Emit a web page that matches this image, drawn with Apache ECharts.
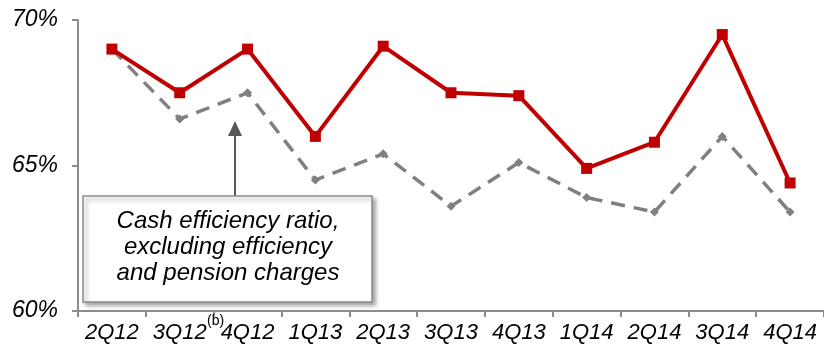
<!DOCTYPE html>
<html>
<head>
<meta charset="utf-8">
<script src="https://cdn.jsdelivr.net/npm/echarts@6/dist/echarts.min.js"></script>
<style>
html,body{margin:0;padding:0;background:#fff;}
#chart{width:824px;height:350px;}
</style>
</head>
<body>
<div id="chart"></div>
<script>
// quarters
var quarters=['2Q12','3Q12','4Q12','1Q13','2Q13','3Q13','4Q13','1Q14','2Q14','3Q14','4Q14'];
// reported efficiency ratio (red)
var ratioReported=[69.0,67.5,69.0,66.0,69.1,67.5,67.4,64.9,65.8,69.5,64.4];
// cash efficiency ratio excl. efficiency and pension charges (grey dashed)
var ratioCash=[69.0,66.6,67.5,64.5,65.4,63.6,65.1,63.9,63.4,66.0,63.4];
var yTicks=[60,65,70];

var font='Liberation Sans, Arial, sans-serif';

var option={
	animation:false,
	grid:{left:78,right:-2,top:20,bottom:39},
	xAxis:{
		type:'category',
		data:quarters,
		boundaryGap:true,
		axisLine:{lineStyle:{color:'#8c8c8c',width:2}},
		axisTick:{show:true,length:6,lineStyle:{color:'#8c8c8c',width:2}},
		axisLabel:{color:'#000',fontStyle:'italic',fontFamily:font,fontSize:22,margin:11,interval:0,hideOverlap:false}
	},
	yAxis:{
		type:'value',
		min:yTicks[0],
		max:yTicks[yTicks.length-1],
		interval:5,
		splitLine:{show:false},
		axisLine:{show:true,lineStyle:{color:'#8c8c8c',width:2}},
		axisTick:{show:true,length:6,lineStyle:{color:'#8c8c8c',width:2}},
		axisLabel:{color:'#000',fontStyle:'italic',fontFamily:font,fontSize:23,margin:20,
			formatter:function(v){return v+'%';}}
	},
	series:[
		{
			name:'cash',
			type:'line',
			data:ratioCash,
			symbol:'diamond',
			symbolSize:9,
			itemStyle:{color:'#808080'},
			lineStyle:{color:'#808080',width:3.5,type:[14,9]},
			z:2
		},
		{
			name:'reported',
			type:'line',
			data:ratioReported,
			symbol:'rect',
			symbolSize:11,
			itemStyle:{color:'#c00000'},
			lineStyle:{color:'#c00000',width:4},
			z:3
		}
	],
	graphic:[
		// arrow
		{type:'line',shape:{x1:235,y1:196,x2:235,y2:134},style:{stroke:'#595959',lineWidth:2},z:10},
		{type:'polygon',shape:{points:[[235,121],[228,136],[242,136]]},style:{fill:'#595959'},z:10},
		// box with shadow
		{type:'rect',shape:{x:83,y:196,width:289,height:106},
			style:{fill:'#fff',stroke:'#8c8c8c',lineWidth:1.5,shadowBlur:4,shadowOffsetX:3,shadowOffsetY:3,shadowColor:'rgba(0,0,0,0.35)'},z:10},
		{type:'text',x:228,y:247,
			style:{text:'Cash efficiency ratio,\nexcluding efficiency\nand pension charges',
				align:'center',verticalAlign:'middle',lineHeight:26,
				font:'italic 24px '+font,fill:'#000'},z:11},
		{type:'text',x:207,y:314,style:{text:'(b)',font:'14px '+font,fill:'#000'},z:11}
	]
};
var mychart=echarts.init(document.getElementById('chart'));
mychart.setOption(option);
</script>
</body>
</html>
